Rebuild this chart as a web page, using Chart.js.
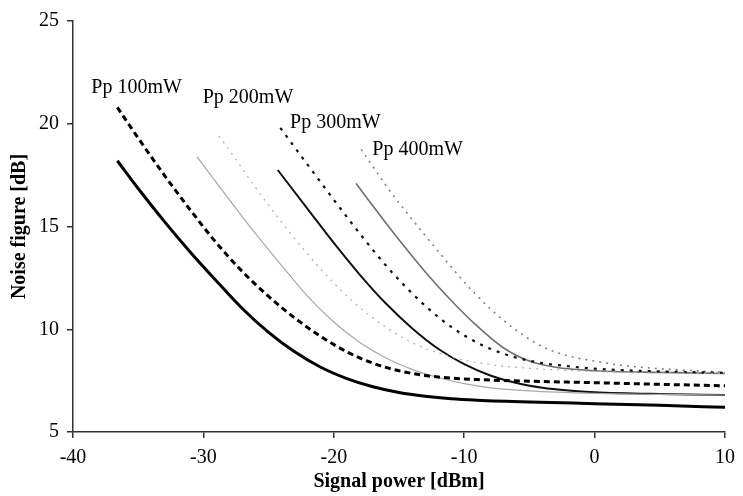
<!DOCTYPE html>
<html>
<head>
<meta charset="utf-8">
<title>Noise figure vs signal power</title>
<script src="https://cdn.jsdelivr.net/npm/chart.js@4.4.1/dist/chart.umd.min.js"></script>
<style>
  html, body { margin: 0; padding: 0; background: #fff; }
  #chart { display: block; }
</style>
</head>
<body>
<canvas id="chart" width="743" height="496"></canvas>
<script>
// axis ticks
const xTicks = [-40, -30, -20, -10, 0, 10];
const yTicks = [5, 10, 15, 20, 25];
const pumpLabels = ['Pp 100mW', 'Pp 200mW', 'Pp 300mW', 'Pp 400mW'];

// signal power [dBm] / noise figure [dB]
const sig100Solid = [-36.6, -35, -33, -31, -29, -27, -25, -23, -21, -19, -17, -15, -13, -11, -9, -5, 0, 5, 10];
const nf100Solid  = [18.2, 16.85, 15.25, 13.75, 12.35, 11.0, 9.85, 8.9, 8.15, 7.6, 7.2, 6.92, 6.74, 6.62, 6.55, 6.46, 6.38, 6.3, 6.2];

const sig100Dash = [-36.6, -35, -33, -31, -29, -27, -25, -23, -21, -19, -17, -15, -13, -11, -9, -5, 0, 5, 10];
const nf100Dash  = [20.8, 19.3, 17.5, 15.8, 14.2, 12.8, 11.6, 10.55, 9.65, 8.9, 8.35, 7.98, 7.75, 7.62, 7.55, 7.47, 7.4, 7.32, 7.25];

const sig200Solid = [-30.5, -28, -26, -24, -22, -20, -18, -16, -14, -12, -10, -8, -5, 0, 5, 10];
const nf200Solid  = [18.4, 16.3, 14.65, 13.1, 11.6, 10.35, 9.35, 8.6, 8.05, 7.65, 7.35, 7.15, 7.0, 6.88, 6.83, 6.8];

const sig200Dash = [-28.8, -28, -26, -24, -22, -20, -18, -16, -14, -12, -10, -8, -5, 0, 5, 10];
const nf200Dash  = [19.4, 18.7, 16.9, 15.2, 13.65, 12.25, 11.05, 10.1, 9.35, 8.85, 8.5, 8.28, 8.1, 7.95, 7.88, 7.85];

const sig300Solid = [-24.3, -22, -20, -18, -16, -14, -12, -10, -8, -6, -4, -2, 0, 5, 10];
const nf300Solid  = [17.75, 15.85, 14.2, 12.65, 11.25, 10.05, 9.05, 8.3, 7.75, 7.38, 7.15, 7.02, 6.94, 6.85, 6.8];

const sig300Dash = [-24.1, -22, -20, -18, -16, -14, -12, -10, -8, -6, -4, -2, 0, 5, 10];
const nf300Dash  = [19.8, 18.0, 16.3, 14.65, 13.1, 11.75, 10.6, 9.7, 9.05, 8.62, 8.35, 8.2, 8.08, 7.95, 7.88];

const sig400Solid = [-18.3, -17, -15, -13, -11, -9, -7, -5, -3, 0, 5, 10];
const nf400Solid  = [17.1, 16.0, 14.35, 12.8, 11.4, 10.15, 9.1, 8.45, 8.15, 7.98, 7.9, 7.85];

const sig400Dash = [-17.9, -17.2, -16, -15, -14, -12, -10, -8, -6, -4, -2, 0, 2, 5, 10];
const nf400Dash  = [18.75, 18.1, 17.0, 16.15, 15.35, 13.8, 12.3, 11.0, 9.95, 9.15, 8.7, 8.45, 8.25, 8.08, 7.9];

function toPoints(xs, ys) {
  return xs.map(function (x, i) { return { x: x, y: ys[i] }; });
}

function curve(xs, ys, color, width, dash) {
  return {
    data: toPoints(xs, ys),
    borderColor: color,
    borderWidth: width,
    borderDash: dash || [],
    pointRadius: 0,
    fill: false,
    cubicInterpolationMode: 'monotone'
  };
}

// where the pump labels sit, in data units (left edge, middle of text)
const labelAnchors = [[-38.6, 21.74], [-30.05, 21.25], [-23.35, 20.04], [-17.05, 18.72]];

const pumpLabelPlugin = {
  id: 'pumpLabels',
  afterDatasetsDraw(chart) {
    const ctx = chart.ctx;
    const xs = chart.scales.x, ys = chart.scales.y;
    ctx.save();
    ctx.font = '20px "Liberation Serif"';
    ctx.fillStyle = '#000';
    ctx.textAlign = 'left';
    ctx.textBaseline = 'middle';
    pumpLabels.forEach(function (t, i) {
      ctx.fillText(t, xs.getPixelForValue(labelAnchors[i][0]), ys.getPixelForValue(labelAnchors[i][1]));
    });
    ctx.restore();
  }
};

const tickFont = { family: 'Liberation Serif', size: 20 };
const titleFont = { family: 'Liberation Serif', size: 20, weight: 'bold' };

new Chart(document.getElementById('chart'), {
  type: 'line',
  data: {
    datasets: [
      curve(sig100Solid, nf100Solid, '#000000', 3),
      curve(sig100Dash, nf100Dash, '#000000', 3, [6, 4]),
      curve(sig200Solid, nf200Solid, '#a8a8a8', 1.2),
      curve(sig200Dash, nf200Dash, '#b0b0b0', 1.2, [2, 5]),
      curve(sig300Solid, nf300Solid, '#111111', 2),
      curve(sig300Dash, nf300Dash, '#111111', 2.2, [3, 6]),
      curve(sig400Solid, nf400Solid, '#6f6f6f', 1.6),
      curve(sig400Dash, nf400Dash, '#808080', 1.6, [2, 5])
    ]
  },
  options: {
    responsive: false,
    animation: false,
    devicePixelRatio: 1,
    layout: { padding: { top: 21, right: 12, left: 0, bottom: 0 } },
    plugins: {
      legend: { display: false },
      tooltip: { enabled: false }
    },
    scales: {
      x: {
        type: 'linear',
        min: -40,
        max: 10,
        afterBuildTicks: function (scale) {
          scale.ticks = xTicks.map(function (v) { return { value: v }; });
        },
        afterFit: function (scale) { scale.height = 64; },
        grid: { display: true, drawOnChartArea: false, drawTicks: true, tickLength: 6, color: '#333', lineWidth: 1.5 },
        border: { display: true, color: '#333', width: 1.5 },
        ticks: { font: tickFont, color: '#000', padding: 8, maxRotation: 0 },
        title: { display: true, text: 'Signal power [dBm]', font: titleFont, color: '#000', padding: { top: 0, bottom: 2 } }
      },
      y: {
        type: 'linear',
        min: 5,
        max: 25,
        afterBuildTicks: function (scale) {
          scale.ticks = yTicks.map(function (v) { return { value: v }; });
        },
        afterFit: function (scale) { scale.width = 73; },
        grid: { display: true, drawOnChartArea: false, drawTicks: true, tickLength: 6, color: '#333', lineWidth: 1.5 },
        border: { display: true, color: '#333', width: 1.5 },
        ticks: { font: tickFont, color: '#000', padding: 8 },
        title: { display: true, text: 'Noise figure [dB]', font: titleFont, color: '#000', padding: { top: 8, bottom: 0 } }
      }
    }
  },
  plugins: [pumpLabelPlugin]
});
</script>
</body>
</html>
